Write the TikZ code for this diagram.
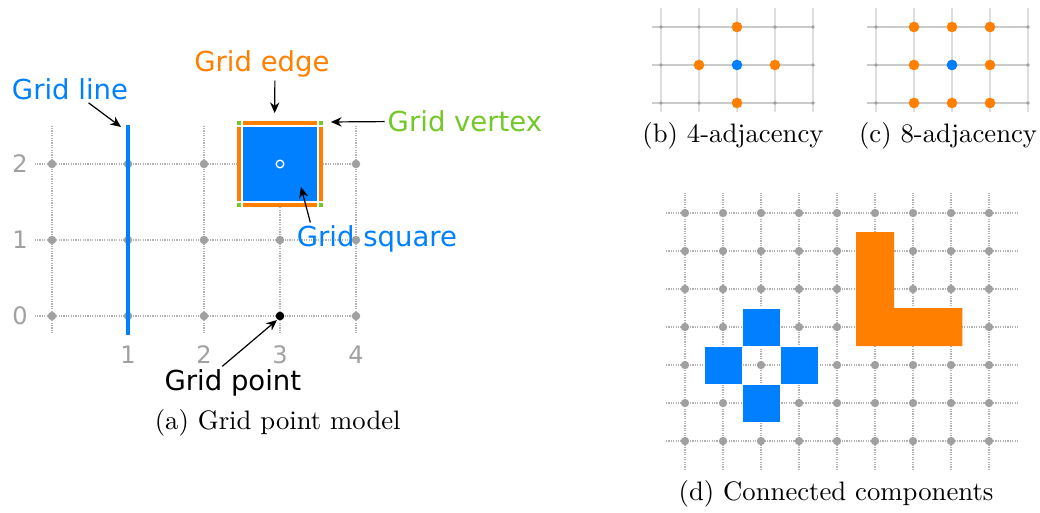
\documentclass[tikz,border=0pt]{standalone}
\usepackage{fontspec}
\usepackage{xcolor}
\usetikzlibrary{arrows.meta}
\newfontfamily\dejavu{DejaVu Sans}
\definecolor{gridblue}{RGB}{0,128,255}
\definecolor{gridorange}{RGB}{255,128,0}
\definecolor{gridgreen}{RGB}{115,200,40}
\definecolor{gridgray}{RGB}{160,160,160}
\tikzset{
  dotline/.style={gridgray!80, line width=0.6pt, dash pattern=on 0.45pt off 0.45pt},
  thinline/.style={gridgray!55, line width=0.5pt},
  tag/.style={font=\dejavu\fontsize{10.3}{12}\selectfont, inner sep=1pt},
  ticklabel/.style={font=\dejavu\fontsize{9}{10}\selectfont, text=gridgray},
  caption/.style={font=\fontsize{10}{12}\selectfont},
  pointer/.style={-{Stealth[length=4pt,width=3.5pt]}, line width=0.45pt},
}

\begin{document}
\begin{tikzpicture}
\useasboundingbox (-0.684,-2.579) rectangle (13.0,4.158);

% (a) grid point model
\foreach \y in {0,1,2} \draw[dotline] (-0.23,\y) -- (4,\y);
\foreach \x in {0,...,4} \draw[dotline] (\x,-0.23) -- (\x,2.5);
\foreach \x in {0,...,4} \foreach \y in {0,1,2} \fill[gridgray] (\x,\y) circle (0.056);
\foreach \y in {0,1,2} \node[ticklabel] at (-0.42,\y) {\y};
\foreach \x in {1,...,4} \node[ticklabel] at (\x,-0.513) {\x};

\draw[gridblue, line width=1.5pt] (1,-0.25) -- (1,2.51);
\fill[gridblue, draw=white, line width=0.5pt] (2.5,1.5) rectangle (3.5,2.5);
\draw[gridorange, line width=1.4pt] (2.51,2.535) -- (3.49,2.535) (2.51,1.465) -- (3.49,1.465)
  (2.465,1.51) -- (2.465,2.49) (3.535,1.51) -- (3.535,2.49);
\foreach \x/\y in {2.465/2.535, 3.535/2.535, 2.465/1.465, 3.535/1.465}
  \fill[gridgreen] (\x-0.027,\y-0.027) rectangle (\x+0.027,\y+0.027);
\draw[white, line width=0.5pt] (3,2) circle (0.05);
\fill[black] (3,0) circle (0.056);

\node[tag, text=gridblue] (linelbl) at (0.237,2.987) {Grid line};
\node[tag, text=gridorange] (edgelbl) at (2.763,3.316) {Grid edge};
\node[tag, text=gridgreen] (vertexlbl) at (5.434,2.566) {Grid vertex};
\node[tag, text=gridblue] (squarelbl) at (4.276,1.013) {Grid square};
\node[tag] (pointlbl) at (2.38,-0.88) {Grid point};
\coordinate (linetip) at (0.908,2.487);
\coordinate (edgetip) at (2.93,2.67);
\coordinate (vertextip) at (3.67,2.553);
\coordinate (squaretip) at (3.276,1.697);
\coordinate (pointtip) at (2.96,-0.053);
\draw[pointer] (linelbl) -- (linetip);
\draw[pointer] ([xshift=0.17cm]edgelbl.south) -- (edgetip);
\draw[pointer] (vertexlbl) -- (vertextip);
\draw[pointer] ([xshift=0.22cm]squarelbl.north west) -- (squaretip);
\draw[pointer] ([xshift=-0.14cm]pointlbl.north) -- (pointtip);
\node[caption] (capa) at (2.97,-1.41) {(a) Grid point model};

% (b) 4-adjacency
\begin{scope}[shift={(8.013,2.803)}, scale=0.5]
\foreach \x in {0,...,4} \draw[thinline, gridgray!35, line width=0.8pt] (\x,-0.24) -- (\x,2.5);
\foreach \y in {0,1,2} \draw[thinline] (-0.24,\y) -- (4,\y);
\foreach \x in {0,...,4} \foreach \y in {0,1,2} \fill[gridgray] (\x,\y) circle (0.05);
\foreach \x/\y in {2/2, 1/1, 3/1, 2/0} \fill[gridorange] (\x,\y) circle (0.14);
\fill[gridblue] (2,1) circle (0.14);
\end{scope}
\node[caption] (capb) at (8.96,2.368) {(b) 4-adjacency};

% (c) 8-adjacency
\begin{scope}[shift={(10.842,2.803)}, scale=0.5]
\foreach \x in {0,...,4} \draw[thinline, gridgray!35, line width=0.8pt] (\x,-0.24) -- (\x,2.5);
\foreach \y in {0,1,2} \draw[thinline] (-0.24,\y) -- (4,\y);
\foreach \x in {0,...,4} \foreach \y in {0,1,2} \fill[gridgray] (\x,\y) circle (0.05);
\foreach \x in {1,2,3} \foreach \y in {0,1,2} \fill[gridorange] (\x,\y) circle (0.14);
\fill[gridblue] (2,1) circle (0.14);
\end{scope}
\node[caption] (capc) at (11.79,2.368) {(c) 8-adjacency};

% (d) connected components
\begin{scope}[shift={(8.329,-1.645)}, scale=0.5]
\foreach \y in {0,...,6} \draw[dotline] (-0.5,\y) -- (8.74,\y);
\foreach \x in {0,...,8} \draw[dotline] (\x,-0.76) -- (\x,6.53);
\foreach \x in {0,...,8} \foreach \y in {0,...,6} \fill[gridgray] (\x,\y) circle (0.11);
\foreach \x/\y in {2/3, 1/2, 3/2, 2/1}
  \fill[gridblue, draw=white, line width=0.3pt] (\x-0.5,\y-0.5) rectangle (\x+0.5,\y+0.5);
\fill[gridorange] (4.5,2.5) -- (4.5,5.5) -- (5.5,5.5) -- (5.5,3.5) -- (7.3,3.5) -- (7.3,2.5) -- cycle;
\end{scope}
\node[caption] (capd) at (10.316,-2.342) {(d) Connected components};
\end{tikzpicture}
\end{document}
